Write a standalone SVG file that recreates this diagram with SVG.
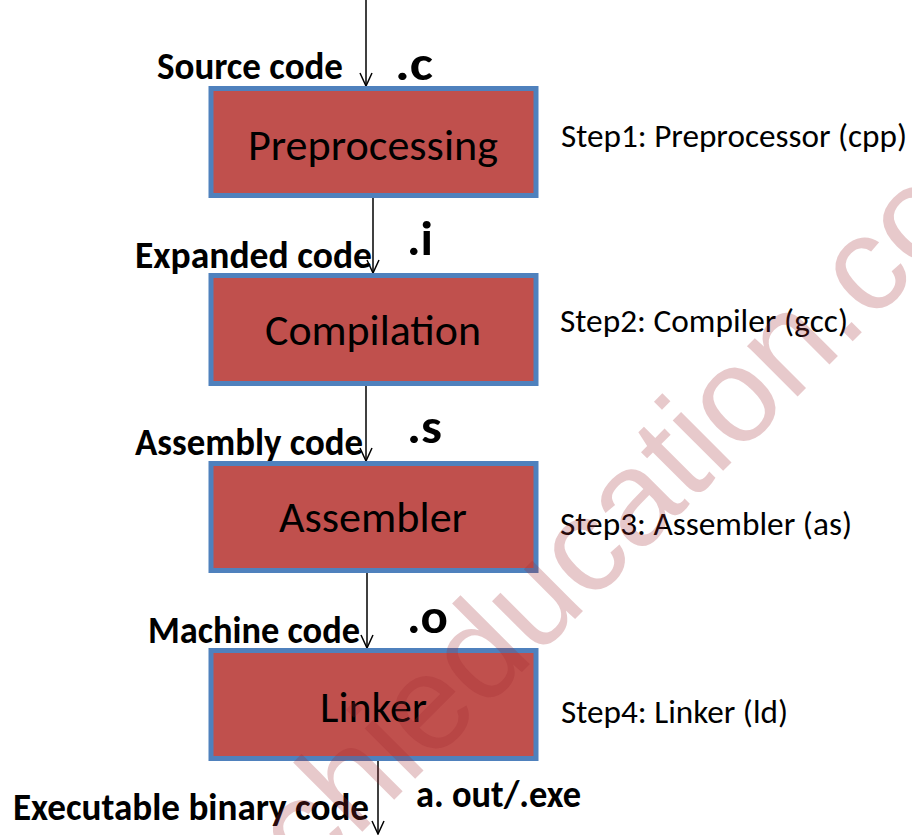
<svg xmlns="http://www.w3.org/2000/svg" width="912" height="835" viewBox="0 0 912 835">
  <style>
    .box { fill: #C0504D; stroke: #4F81BD; stroke-width: 5; }
    .boxlabel { font-family: Carlito, Lato, "Liberation Sans", sans-serif; font-size: 44px; fill: #000; }
    .inlabel { font-family: Carlito, Lato, "Liberation Sans", sans-serif; font-weight: bold; font-size: 38px; fill: #000; }
    .ext { font-family: Carlito, Lato, "Liberation Sans", sans-serif; font-weight: bold; font-size: 48px; fill: #000; }
    .step { font-family: Carlito, Lato, "Liberation Sans", sans-serif; font-size: 32px; fill: #000; }
    .conn { stroke: #000; stroke-width: 1.5; fill: none; marker-end: url(#arr); }
    .wm { font-family: "Liberation Sans", Arial, sans-serif; font-size: 135px; fill: #A0282E; fill-opacity: 0.25; }
  </style>
  <defs>
    <marker id="arr" markerUnits="userSpaceOnUse" viewBox="-15 -8 17 16" markerWidth="17" markerHeight="16" refX="0" refY="0" orient="auto" overflow="visible">
      <path d="M-13,-6 L0,0 L-13,6" fill="none" stroke="#000" stroke-width="1.5"/>
    </marker>
  </defs>
  <rect width="912" height="835" fill="#fff"/>

  <g id="connectors">
    <line class="conn" x1="366" y1="0" x2="366" y2="86"/>
    <line class="conn" x1="373" y1="197" x2="373" y2="273"/>
    <line class="conn" x1="366" y1="386" x2="366" y2="461"/>
    <line class="conn" x1="367" y1="573" x2="367" y2="648"/>
    <line class="conn" x1="378" y1="761" x2="378" y2="834"/>
  </g>

  <g id="preprocessing">
    <rect class="box" x="211" y="88.5" width="325" height="107"/>
    <text class="boxlabel" x="248" y="160" textLength="250" lengthAdjust="spacingAndGlyphs">Preprocessing</text>
  </g>
  <g id="compilation">
    <rect class="box" x="211" y="275.5" width="325" height="108"/>
    <text class="boxlabel" x="265" y="345" textLength="216" lengthAdjust="spacingAndGlyphs">Compilation</text>
  </g>
  <g id="assembler">
    <rect class="box" x="211" y="463.5" width="325" height="107"/>
    <text class="boxlabel" x="279" y="532" textLength="188" lengthAdjust="spacingAndGlyphs">Assembler</text>
  </g>
  <g id="linker">
    <rect class="box" x="211" y="650.5" width="325" height="108"/>
    <text class="boxlabel" x="320" y="722" textLength="107" lengthAdjust="spacingAndGlyphs">Linker</text>
  </g>

  <g id="labels">
    <text class="inlabel" x="157" y="79" textLength="186" lengthAdjust="spacingAndGlyphs">Source code</text>
    <text class="ext" x="395" y="80" textLength="38" lengthAdjust="spacingAndGlyphs">.c</text>
    <text class="inlabel" x="135" y="268" textLength="237" lengthAdjust="spacingAndGlyphs">Expanded code</text>
    <text class="ext" x="407" y="255" textLength="26" lengthAdjust="spacingAndGlyphs">.i</text>
    <text class="inlabel" x="135" y="455" textLength="228" lengthAdjust="spacingAndGlyphs">Assembly code</text>
    <text class="ext" x="407" y="443" textLength="35" lengthAdjust="spacingAndGlyphs">.s</text>
    <text class="inlabel" x="148" y="643" textLength="212" lengthAdjust="spacingAndGlyphs">Machine code</text>
    <text class="ext" x="407" y="633" textLength="41" lengthAdjust="spacingAndGlyphs">.o</text>
    <text class="inlabel" x="13" y="820" textLength="356" lengthAdjust="spacingAndGlyphs">Executable binary code</text>
    <text class="inlabel" x="416" y="807" textLength="165" lengthAdjust="spacingAndGlyphs">a. out/.exe</text>

    <text class="step" x="561" y="147" textLength="346" lengthAdjust="spacingAndGlyphs">Step1: Preprocessor (cpp)</text>
    <text class="step" x="560" y="332" textLength="288" lengthAdjust="spacingAndGlyphs">Step2: Compiler (gcc)</text>
    <text class="step" x="560" y="535" textLength="292" lengthAdjust="spacingAndGlyphs">Step3: Assembler (as)</text>
    <text class="step" x="561" y="723" textLength="227" lengthAdjust="spacingAndGlyphs">Step4: Linker (ld)</text>
  </g>

  <g id="watermark">
    <text class="wm" transform="translate(308,886) rotate(-45)">chieducation.co</text>
  </g>
</svg>
